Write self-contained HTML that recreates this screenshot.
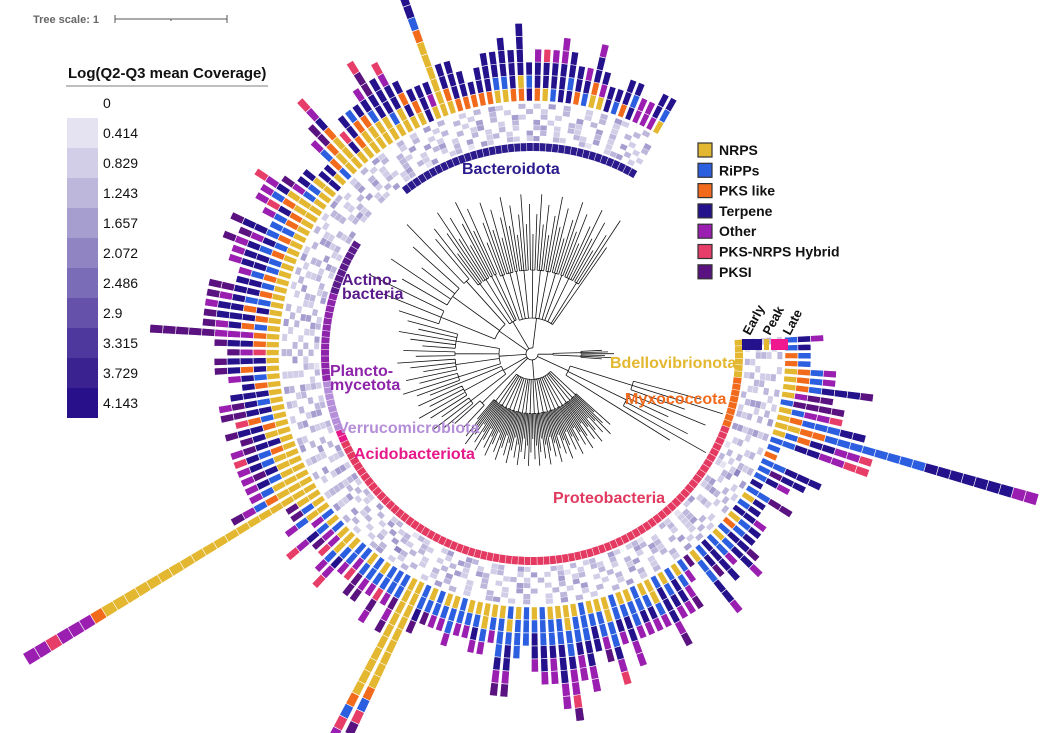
<!DOCTYPE html>
<html><head><meta charset="utf-8"><style>
html,body{margin:0;padding:0;background:#fff;}
svg{display:block;font-family:"Liberation Sans",sans-serif;}
</style></head><body>
<svg id="chart" width="1050" height="733" viewBox="0 0 1050 733" xmlns="http://www.w3.org/2000/svg">
<g>
<text x="33" y="23" font-size="11" font-weight="bold" fill="#666">Tree scale: 1</text>
<path d="M115 19H227M115 15V23M227 15V23M171 19V21" stroke="#555" stroke-width="1" fill="none"/>
</g>
<g id="covLegend">
<text x="68" y="78" font-size="15" font-weight="bold" fill="#111">Log(Q2-Q3 mean Coverage)</text>
<line x1="66" y1="86" x2="268" y2="86" stroke="#aaa" stroke-width="1.5"/>
</g>
<g id="typeLegend"></g>
<g id="tree"></g>
<g id="phylumRing"></g>
<g id="heat"></g>
<g id="bars"></g>
<g>
<rect x="742" y="339" width="20" height="11" fill="#24128c"/>
<rect x="764" y="339" width="5" height="11" fill="#e3b72f"/>
<rect x="771" y="339" width="17" height="11" fill="#f0188f"/>
<text transform="translate(750,336) rotate(-62)" font-size="13" font-weight="bold" fill="#111">Early</text>
<text transform="translate(770,336) rotate(-62)" font-size="13" font-weight="bold" fill="#111">Peak</text>
<text transform="translate(790,336) rotate(-62)" font-size="13" font-weight="bold" fill="#111">Late</text>
</g>
<g font-weight="bold" font-size="16">
<text x="462" y="174" fill="#2a1a8c">Bacteroidota</text>
<text x="342" y="285" fill="#5a1a8a">Actino-</text>
<text x="342" y="299" fill="#5a1a8a">bacteria</text>
<text x="330" y="376" fill="#8e24aa">Plancto-</text>
<text x="330" y="390" fill="#8e24aa">mycetota</text>
<text x="338" y="433" fill="#b48ed8">Verrucomicrobiota</text>
<text x="354" y="459" fill="#e6188a">Acidobacteriota</text>
<text x="553" y="503" fill="#e0385e">Proteobacteria</text>
<text x="610" y="368" fill="#e3b72f">Bdellovibrionota</text>
<text x="625" y="404" fill="#f26a1b">Myxococcota</text>
</g>
</svg>
<script>
// ---- data ----
const bgcTypes = ["NRPS","RiPPs","PKS like","Terpene","Other","PKS-NRPS Hybrid","PKSI"];
const bgcCodes = ["N","R","K","T","O","H","P"];
const bgcColors = ["#e3b72f","#2c5ee0","#f26a1b","#24128c","#9a1fb0","#e63e68","#5a1280"];
const covTicks = ["0","0.414","0.829","1.243","1.657","2.072","2.486","2.9","3.315","3.729","4.143"];
const covColors = ["#ffffff","#e5e3f1","#d2cee7","#bdb7dc","#a79ed0","#9084c2","#7a6cb6","#6551a9","#4f389d","#3a2291","#27108a"];
const phylumNames = ["Bdellovibrionota","Myxococcota","Proteobacteria","Acidobacteriota","Verrucomicrobiota","Planctomycetota","Actinobacteria","Other phyla","Bacteroidota"];
const phylumCounts = [6,8,77,2,8,14,9,11,39];
const phylumColors = ["#e3b72f","#f26a1b","#e43a62","#e6188a","#b48ed8","#8e24aa","#5a1a8a",null,"#2a1a8c"];
const bars = [
"RTO","RT","KR","KR","NKRO","NKRO",
"NKRTTTP","NOPP","RPPPP","NROOH","NKRRRTT","NNKKRRRRRRRRTTTTTTTOO","NRKTTOOH","RRTTOOHH",
"R","K","RRTTT","RPTT","RTO","T","RRPP","NT","RT","TTO",
"NRT","KRT","RTTP","NRTTO","RRO","TTTT","RTP","NRRTTO","P","RO",
"NROP","RTTO","NRTO","RTTTOP","NNRO","NRTO","RRTO","NRRO","NRTTOO","RRTO",
"NNRRTOH","NRROP","NRTT","RRRTTOO","NRRTOO","NNRRTOOHP","NRRTTTOO","NRRTOO","RRRTTO","NRTTO",
"RRR","NRRR","RNRTTOP","NRRRTOP","NRO","NNRO","NRTO","NRO","RRO","NRRO",
"NRO","RRO","NRP","RRTP","NNNNNNNNNKRHP","NNNNNNNNNNKRHO","RRPOP","RRO","RRHPO","NRO",
"RROP","NRPP","ROH","RRO","NRTOH","NNRO","NOH","ROP","NRTOH","RO",
"NNRO","NRP","NNP","NNNNNNNNNNNNNNNNNNNKOOOHOO","NNNKROP","NNNRO","NNRTO",
"NNTPO","NNRTO",
"NKRTH","NTTPO","NNTP","NKTTP","NRKH","NTTPP","NRTPO","NTTT",
"NKT","NRTO","NTKTP","NTTTP","NHOP","NKTTP","NKOOOPPPPP","NRKTOP","NKTTTP","NTKTTO","NRRTOP","NKTTPP","NRTT","NKRO",
"NRTTO","NRTTO","NKRTOP","NRTOP","NKRTTP","NRR","NKRO","NKTHO","NNKRO",
"NNNTOH","NROP","NRT","NNT","TT","NT","RKRO","NNKPP","NNNKTOH","NTH","NKTT",
"NNKR","NNKT","NNRTO","NNTTPPH","NRTTT","NNTTOH","NTKT","NKT","TTT","NOT","NNNNNNKRTT","NKTT","KTTT","KTT","KT","KTT","KTTT","NRTT","NRTTT","KTTT","KNTTTT","TRT","KTTO","NTTH","RTTO","TTTOO","TRTT","KTT","RTO","NKTTO","NOT","TT","RT","KTT","TRT","OO","OO","OTT","NRT"
];
const heat0 = "2103020030230400103200320042010230001320240032030230002400320034004200231003200402302402034002300320203100240320043002302003400230032040230014002301042003202400320031002340200310";
const heat1 = "3002030203020402030100430200320300203400030230201302040200320203402002300320403002030304020300204300320203002403002300402302003420020300240320020304002302004030200320402003020302";
const heat2 = "0230203204030203002032040300320200340203020300320400302032003402030200302304020030203204020030204030200320302040230032040203002030402032030020340200302030200340203200302040203002";
const heat3 = "2030023004200320030240030200420030230042003020040302003400203002403002030040200320040302002400302003402003020040230020300420030203004020032004020030240020300402003200403002030042";
const heat4 = "3020020302030400203500302003020400302004030200402030030402003020040302003500302004020300402030040302002040300302004020300420030200403020030400203002040300420030200403002030040203";
const heat5 = "0200030020300200302002030020302003002030020030200302003002030020030200302003020030020302003002030020302003002030020302003002030020300203002030020030200302003020030020302003002030";
const heat6 = "2030200302040302003040203002030402003020403002030402003020430020304020030204300203040200302043002030402003020403002030420030204300203042003020403002030420030204030020304200302040";
const heatRings = [heat0,heat1,heat2,heat3,heat4,heat5,heat6];
// tree layout per phylum group: angle range of the clade in the tree drawing and tip radii
const treeA1 = [-3, 15, 42, 133, 140, 160, 198, 232, 248];
const treeA2 = [4, 32, 130, 138, 158, 195, 230, 246, 305];
const treeTipMin = [70, 150, 85, 100, 110, 110, 140, 125, 120];
const treeTipMax = [82, 200, 112, 104, 130, 135, 180, 170, 160];

// ---- geometry ----
const NS="http://www.w3.org/2000/svg";
const cx=532, cy=354, A0=-4, SPAN=304;
const N = bars.length, STEP = SPAN/N;
const angleOf = i => A0 + (i+0.5)*STEP;
const R_RING0=203, R_RING1=211, R_HEAT0=213, HEATW=5.4, R_BAR0=253, UNIT=13;
function pt(r,a){const t=a*Math.PI/180;return [cx+r*Math.cos(t),cy+r*Math.sin(t)];}
function sector(r1,r2,a1,a2){
  const p1=pt(r1,a1),p2=pt(r2,a1),p3=pt(r2,a2),p4=pt(r1,a2);
  return `M${p1[0].toFixed(2)} ${p1[1].toFixed(2)}L${p2[0].toFixed(2)} ${p2[1].toFixed(2)}A${r2} ${r2} 0 0 1 ${p3[0].toFixed(2)} ${p3[1].toFixed(2)}L${p4[0].toFixed(2)} ${p4[1].toFixed(2)}A${r1} ${r1} 0 0 0 ${p1[0].toFixed(2)} ${p1[1].toFixed(2)}Z`;
}
function mk(tag,attrs,parent){const e=document.createElementNS(NS,tag);for(const k in attrs)e.setAttribute(k,attrs[k]);parent.appendChild(e);return e;}

// coverage legend
const cl=document.getElementById('covLegend');
covTicks.forEach((t,k)=>{
  const tx=mk('text',{x:103,y:108+k*30,'font-size':14,fill:'#111'},cl);
  tx.textContent=t;
  
  
  if(k>0){
    const r=mk('rect',{x:67,y:118+(k-1)*30,width:31,height:30,fill:covColors[k]},cl);
    
    
  }
});
// type legend
const tl=document.getElementById('typeLegend');
bgcTypes.forEach((t,k)=>{
  const r=mk('rect',{x:698,y:143+k*20.3,width:14,height:14,fill:bgcColors[k],stroke:'#333','stroke-width':1.2},tl);
  
  
  const tx=mk('text',{x:719,y:155+k*20.3,'font-size':14,'font-weight':'bold',fill:'#111'},tl);
  tx.textContent=t;
  
  
});

// leaf phylum index
const leafPhylum=[];const groupStart=[];
let s=0;phylumCounts.forEach((c,g)=>{groupStart.push(s);for(let j=0;j<c;j++)leafPhylum.push(g);s+=c;});

// phylum ring
const pr=document.getElementById('phylumRing');
for(let i=0;i<N;i++){
  const col=phylumColors[leafPhylum[i]];
  if(!col)continue;
  const a=angleOf(i);
  const p=mk('path',{d:sector(R_RING0,R_RING1,a-STEP*0.46,a+STEP*0.46),fill:col},pr);
  
  
}
// heatmap
const hm=document.getElementById('heat');
heatRings.forEach((str,k)=>{
  for(let i=0;i<N;i++){
    const v=+(str[i]||'0');
    if(!v)continue;
    const a=angleOf(i), r1=R_HEAT0+k*HEATW;
    const p=mk('path',{d:sector(r1,r1+HEATW-0.4,a-STEP*0.47,a+STEP*0.47),fill:covColors[Math.min(v,10)]},hm);
    
    
  }
});
// bars
const bg=document.getElementById('bars');
bars.forEach((str,i)=>{
  const a=angleOf(i);
  let r=R_BAR0;
  for(const ch of str){
    const ci=bgcCodes.indexOf(ch);
    const p=mk('path',{d:sector(r,r+UNIT,a-STEP*0.37,a+STEP*0.37),fill:bgcColors[ci],stroke:'#fff','stroke-width':0.6},bg);
    
    
    r+=UNIT;
  }
});

// tree (own angular layout per clade)
const tg=document.getElementById('tree');
let d='';
function radial(r1,r2,a){const p=pt(r1,a),q=pt(r2,a);d+=`M${p[0].toFixed(1)} ${p[1].toFixed(1)}L${q[0].toFixed(1)} ${q[1].toFixed(1)}`;}
function arc(r,a1,a2){if(Math.abs(a2-a1)<0.01)return;const p=pt(r,a1),q=pt(r,a2);d+=`M${p[0].toFixed(1)} ${p[1].toFixed(1)}A${r} ${r} 0 ${(a2-a1)>180?1:0} 1 ${q[0].toFixed(1)} ${q[1].toFixed(1)}`;}
const chunkPat=[3,4,2,5,3,4];
const groupAngles=[];
phylumCounts.forEach((c,g)=>{
  const tmin=treeTipMin[g], tmax=treeTipMax[g];
  const rg=Math.min(40,tmin*0.3), rs=tmin*0.7;
  const st=groupStart[g];
  const ta=k=> c>1 ? treeA1[g]+(treeA2[g]-treeA1[g])*k/(c-1) : (treeA1[g]+treeA2[g])/2;
  const subAngles=[];
  let j=0,ci=0;
  while(j<c){
    const n=Math.min(chunkPat[ci%chunkPat.length],c-j);ci++;
    const la=[];
    for(let q=0;q<n;q++){
      const i=st+j+q;const a=ta(j+q);la.push(a);
      const tip=tmin+(tmax-tmin)*(((i*7)%5)/4);
      radial(rs,tip,a);
    }
    arc(rs,la[0],la[la.length-1]);
    const sa=(la[0]+la[la.length-1])/2;subAngles.push(sa);
    radial(rg,rs,sa);
    j+=n;
  }
  arc(rg,subAngles[0],subAngles[subAngles.length-1]);
  const ga=(subAngles[0]+subAngles[subAngles.length-1])/2;groupAngles.push(ga);
  radial(6,rg,ga);
});
arc(6,groupAngles[0],groupAngles[groupAngles.length-1]);
const tp=mk('path',{d:d,fill:'none',stroke:'#111','stroke-width':0.8},tg);


</script>
</body></html>
